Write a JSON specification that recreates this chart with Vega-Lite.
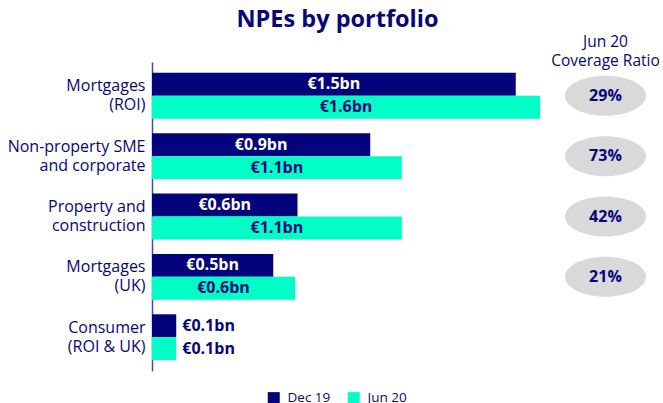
{
  "$schema": "https://vega.github.io/schema/vega-lite/v6.json",
  "width": 485,
  "height": 309,
  "autosize": {"type": "none"},
  "padding": {"left": 152, "top": 62, "right": 26, "bottom": 32},
  "background": "white",
  "config": {
    "font": "Open Sans",
    "view": {"stroke": null}
  },
  "title": {
    "text": "NPEs by portfolio",
    "fontSize": 23.5,
    "fontWeight": "bold",
    "color": "#06067a",
    "anchor": "middle",
    "frame": "group",
    "dx": -57,
    "offset": 3
  },
  "datasets": {
    "bars": [
      {"cat": "Mortgages|(ROI)", "series": "Dec 19", "v": 1.5, "lbl": "€1.5bn"},
      {"cat": "Mortgages|(ROI)", "series": "Jun 20", "v": 1.6, "lbl": "€1.6bn"},
      {"cat": "Non-property SME|and corporate", "series": "Dec 19", "v": 0.9, "lbl": "€0.9bn"},
      {"cat": "Non-property SME|and corporate", "series": "Jun 20", "v": 1.03, "lbl": "€1.1bn"},
      {"cat": "Property and|construction", "series": "Dec 19", "v": 0.6, "lbl": "€0.6bn"},
      {"cat": "Property and|construction", "series": "Jun 20", "v": 1.03, "lbl": "€1.1bn"},
      {"cat": "Mortgages|(UK)", "series": "Dec 19", "v": 0.5, "lbl": "€0.5bn"},
      {"cat": "Mortgages|(UK)", "series": "Jun 20", "v": 0.59, "lbl": "€0.6bn"},
      {"cat": "Consumer|(ROI & UK)", "series": "Dec 19", "v": 0.1, "lbl": "€0.1bn"},
      {"cat": "Consumer|(ROI & UK)", "series": "Jun 20", "v": 0.1, "lbl": "€0.1bn"}
    ],
    "coverage": [
      {"cat": "Mortgages|(ROI)", "ratio": "29%"},
      {"cat": "Non-property SME|and corporate", "ratio": "73%"},
      {"cat": "Property and|construction", "ratio": "42%"},
      {"cat": "Mortgages|(UK)", "ratio": "21%"}
    ]
  },
  "encoding": {
    "y": {
      "field": "cat",
      "type": "nominal",
      "sort": ["Mortgages|(ROI)", "Non-property SME|and corporate", "Property and|construction", "Mortgages|(UK)", "Consumer|(ROI & UK)"],
      "scale": {"paddingInner": 0.24, "paddingOuter": 0.18},
      "axis": {
        "title": null,
        "ticks": false,
        "labelExpr": "split(datum.label, '|')",
        "labelFontSize": 16,
        "labelColor": "#06067a",
        "labelPadding": 7,
        "labelLineHeight": 19,
        "labelOffset": -9.5,
        "domainColor": "#4a4a9a",
        "domainWidth": 1.5,
        "grid": false
      }
    }
  },
  "layer": [
    {
      "data": {"name": "bars"},
      "mark": {"type": "bar"},
      "encoding": {
        "x": {"field": "v", "type": "quantitative", "scale": {"domain": [0, 2]}, "axis": null},
        "yOffset": {"field": "series", "type": "nominal", "sort": ["Dec 19", "Jun 20"]},
        "color": {
          "field": "series",
          "type": "nominal",
          "scale": {"domain": ["Dec 19", "Jun 20"], "range": ["#03037c", "#00ffc6"]},
          "legend": {
            "title": null,
            "orient": "none",
            "legendX": 115,
            "legendY": 329,
            "direction": "horizontal",
            "symbolType": "square",
            "symbolSize": 144,
            "symbolStrokeWidth": 0,
            "labelFontSize": 13.5,
            "labelColor": "#06067a",
            "labelOffset": 7,
            "columnPadding": 16
          }
        }
      }
    },
    {
      "data": {"name": "bars"},
      "transform": [
        {"filter": "datum.v >= 0.3"},
        {"calculate": "datum.v / 2", "as": "mid"}
      ],
      "mark": {"type": "text", "fontSize": 16, "fontWeight": "bold", "align": "center", "baseline": "middle"},
      "encoding": {
        "x": {"field": "mid", "type": "quantitative"},
        "yOffset": {"field": "series", "type": "nominal", "sort": ["Dec 19", "Jun 20"]},
        "text": {"field": "lbl"},
        "color": {"condition": {"test": "datum.series == 'Dec 19'", "value": "white"}, "value": "#06067a"}
      }
    },
    {
      "data": {"name": "bars"},
      "transform": [{"filter": "datum.v < 0.3"}],
      "mark": {"type": "text", "fontSize": 16, "fontWeight": "bold", "align": "left", "baseline": "middle", "dx": 6, "color": "#06067a"},
      "encoding": {
        "x": {"field": "v", "type": "quantitative"},
        "yOffset": {"field": "series", "type": "nominal", "sort": ["Dec 19", "Jun 20"]},
        "text": {"field": "lbl"}
      }
    },
    {
      "data": {"name": "coverage"},
      "mark": {"type": "point", "filled": true, "color": "#d9d9d9", "opacity": 1, "size": 6561, "shape": "M-1,0A1,0.494,0,1,1,1,0A1,0.494,0,1,1,-1,0Z"},
      "encoding": {
        "x": {"datum": 1.87, "type": "quantitative"}
      }
    },
    {
      "data": {"name": "coverage"},
      "mark": {"type": "text", "fontSize": 16, "fontWeight": "bold", "color": "#06067a", "align": "center", "baseline": "middle"},
      "encoding": {
        "x": {"datum": 1.87, "type": "quantitative"},
        "text": {"field": "ratio"}
      }
    },
    {
      "data": {"values": [{"cat": "Mortgages|(ROI)", "h": "Jun 20\nCoverage Ratio"}]},
      "mark": {"type": "text", "fontSize": 15.5, "color": "#06067a", "align": "center", "baseline": "middle", "lineBreak": "\n", "lineHeight": 19, "dy": -54},
      "encoding": {
        "x": {"datum": 1.87, "type": "quantitative"},
        "text": {"field": "h"}
      }
    }
  ]
}
